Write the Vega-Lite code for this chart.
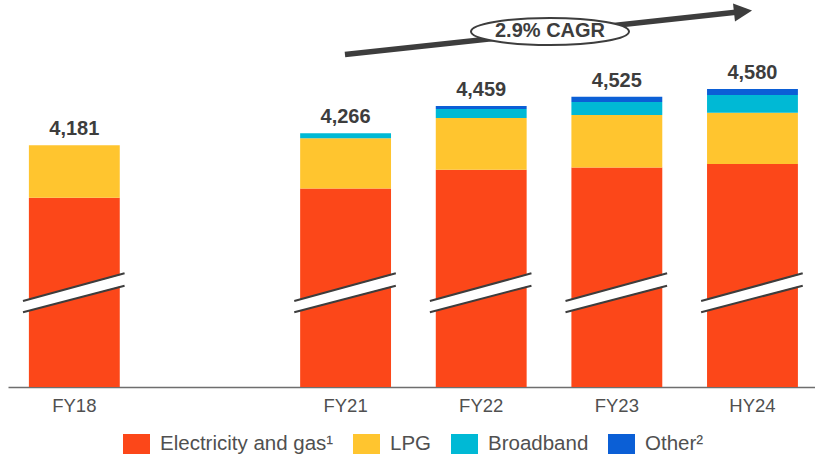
{
  "$schema": "https://vega.github.io/schema/vega-lite/v6.json",
  "width": 807,
  "height": 387,
  "autosize": {"type": "none"},
  "padding": {"left": 8, "top": 0, "right": 0, "bottom": 72},
  "background": "white",
  "config": {"view": {"stroke": null}, "font": "Liberation Sans"},
  "datasets": {
    "accounts": [
      {"period": "FY18", "segment": "Electricity and gas¹", "value": 3809},
      {"period": "FY18", "segment": "LPG", "value": 372},
      {"period": "FY21", "segment": "Electricity and gas¹", "value": 3874},
      {"period": "FY21", "segment": "LPG", "value": 357},
      {"period": "FY21", "segment": "Broadband", "value": 35},
      {"period": "FY22", "segment": "Electricity and gas¹", "value": 4007},
      {"period": "FY22", "segment": "LPG", "value": 367},
      {"period": "FY22", "segment": "Broadband", "value": 64},
      {"period": "FY22", "segment": "Other²", "value": 21},
      {"period": "FY23", "segment": "Electricity and gas¹", "value": 4023},
      {"period": "FY23", "segment": "LPG", "value": 372},
      {"period": "FY23", "segment": "Broadband", "value": 92},
      {"period": "FY23", "segment": "Other²", "value": 38},
      {"period": "HY24", "segment": "Electricity and gas¹", "value": 4048},
      {"period": "HY24", "segment": "LPG", "value": 364},
      {"period": "HY24", "segment": "Broadband", "value": 125},
      {"period": "HY24", "segment": "Other²", "value": 43}
    ],
    "note": [{"label": "2.9% CAGR"}]
  },
  "data": {"name": "accounts"},
  "layer": [
    {
      "transform": [{"calculate": "indexof(['Electricity and gas¹', 'LPG', 'Broadband', 'Other²'], datum.segment)", "as": "stackRank"}],
      "mark": {"type": "bar"},
      "encoding": {
        "x": {
          "field": "period",
          "type": "nominal",
          "sort": null,
          "scale": {"type": "band", "domain": ["FY18", " ", "FY21", "FY22", "FY23", "HY24"], "paddingInner": 0.33, "paddingOuter": 0.14, "align": 0.55},
          "axis": {"title": null, "labelAngle": 0, "ticks": false, "tickSize": 0, "labelPadding": 9, "labelFont": "Liberation Sans", "labelFontSize": 18.5, "labelColor": "#505050", "domainColor": "#6e6e6e", "domainWidth": 1.5, "grid": false}
        },
        "y": {
          "field": "value",
          "type": "quantitative",
          "stack": "zero",
          "scale": {"domain": [2467, 5211], "clamp": true, "nice": false, "zero": false},
          "axis": null
        },
        "order": {"field": "stackRank", "type": "quantitative", "sort": "ascending"},
        "color": {
          "field": "segment",
          "type": "nominal",
          "sort": ["Electricity and gas¹", "LPG", "Broadband", "Other²"],
          "scale": {"domain": ["Electricity and gas¹", "LPG", "Broadband", "Other²"], "range": ["#FC4719", "#FFC52F", "#00B9D5", "#0B5FD6"]},
          "legend": {"orient": "none", "legendX": 115, "legendY": 430.5, "direction": "horizontal", "columns": 4, "title": null, "symbolType": "M-1,-0.74H1V0.74H-1Z", "symbolSize": 729, "symbolStrokeWidth": 0, "symbolOpacity": 1, "labelFont": "Liberation Sans", "labelFontSize": 20.5, "labelColor": "#505050", "labelOffset": 10, "columnPadding": 19, "padding": 0, "labelLimit": 400}
        }
      }
    },
    {
      "mark": {"type": "text", "font": "Liberation Sans", "fontWeight": "bold", "fontSize": 20, "color": "#3d3d3d", "baseline": "alphabetic", "dy": -10},
      "encoding": {
        "x": {"field": "period", "type": "nominal", "scale": {"type": "band"}},
        "y": {"aggregate": "sum", "field": "value", "type": "quantitative"},
        "text": {"aggregate": "sum", "field": "value", "type": "quantitative", "format": ","}
      }
    },
    {
      "transform": [{"aggregate": [{"op": "count", "as": "n"}], "groupby": ["period"]}],
      "mark": {"type": "rule", "color": "white", "strokeWidth": 11, "strokeCap": "butt"},
      "encoding": {
        "x": {"field": "period", "type": "nominal", "scale": {"type": "band"}, "bandPosition": -0.065},
        "x2": {"field": "period", "bandPosition": 1.053},
        "y": {"datum": 3036.7},
        "y2": {"datum": 3229.2}
      }
    },
    {
      "transform": [{"aggregate": [{"op": "count", "as": "n"}], "groupby": ["period"]}],
      "mark": {"type": "rule", "color": "#3d3d3d", "strokeWidth": 2, "strokeCap": "butt"},
      "encoding": {
        "x": {"field": "period", "type": "nominal", "scale": {"type": "band"}, "bandPosition": -0.065},
        "x2": {"field": "period", "bandPosition": 1.053},
        "y": {"datum": 3076.8},
        "y2": {"datum": 3273.2}
      }
    },
    {
      "transform": [{"aggregate": [{"op": "count", "as": "n"}], "groupby": ["period"]}],
      "mark": {"type": "rule", "color": "#3d3d3d", "strokeWidth": 2, "strokeCap": "butt"},
      "encoding": {
        "x": {"field": "period", "type": "nominal", "scale": {"type": "band"}, "bandPosition": -0.065},
        "x2": {"field": "period", "bandPosition": 1.053},
        "y": {"datum": 2996.7},
        "y2": {"datum": 3185.3}
      }
    },
    {
      "data": {"name": "note"},
      "mark": {"type": "rule", "color": "#3d3d3d", "strokeWidth": 5.5, "strokeCap": "butt"},
      "encoding": {
        "x": {"datum": "FY21", "bandPosition": 0.493, "scale": {"type": "band"}},
        "x2": {"datum": "HY24", "bandPosition": 0.341},
        "y": {"datum": 4824.4},
        "y2": {"datum": 5125.8}
      }
    },
    {
      "data": {"name": "note"},
      "mark": {"type": "point", "shape": "M-1,-1L1,0L-1,1Z", "size": 330, "angle": -6.2, "filled": true, "color": "#3d3d3d", "opacity": 1, "strokeWidth": 0},
      "encoding": {
        "x": {"datum": "HY24", "bandPosition": 0.396, "scale": {"type": "band"}},
        "y": {"datum": 5129.3}
      }
    },
    {
      "data": {"name": "note"},
      "mark": {"type": "point", "shape": "M1,0C1,0.0944 0.5523,0.171 0,0.171C-0.5523,0.171 -1,0.0944 -1,0C-1,-0.0944 -0.5523,-0.171 0,-0.171C0.5523,-0.171 1,-0.0944 1,0Z", "size": 24964, "filled": true, "fill": "white", "stroke": "#3d3d3d", "strokeWidth": 2, "opacity": 1, "fillOpacity": 1, "strokeOpacity": 1},
      "encoding": {
        "x": {"datum": "FY22", "bandPosition": 1.257, "scale": {"type": "band"}},
        "y": {"datum": 4988}
      }
    },
    {
      "data": {"name": "note"},
      "mark": {"type": "text", "font": "Liberation Sans", "fontWeight": "bold", "fontSize": 20, "color": "#3d3d3d", "baseline": "middle", "align": "center"},
      "encoding": {
        "x": {"datum": "FY22", "bandPosition": 1.257, "scale": {"type": "band"}},
        "y": {"datum": 4988},
        "text": {"field": "label", "type": "nominal"}
      }
    }
  ]
}
